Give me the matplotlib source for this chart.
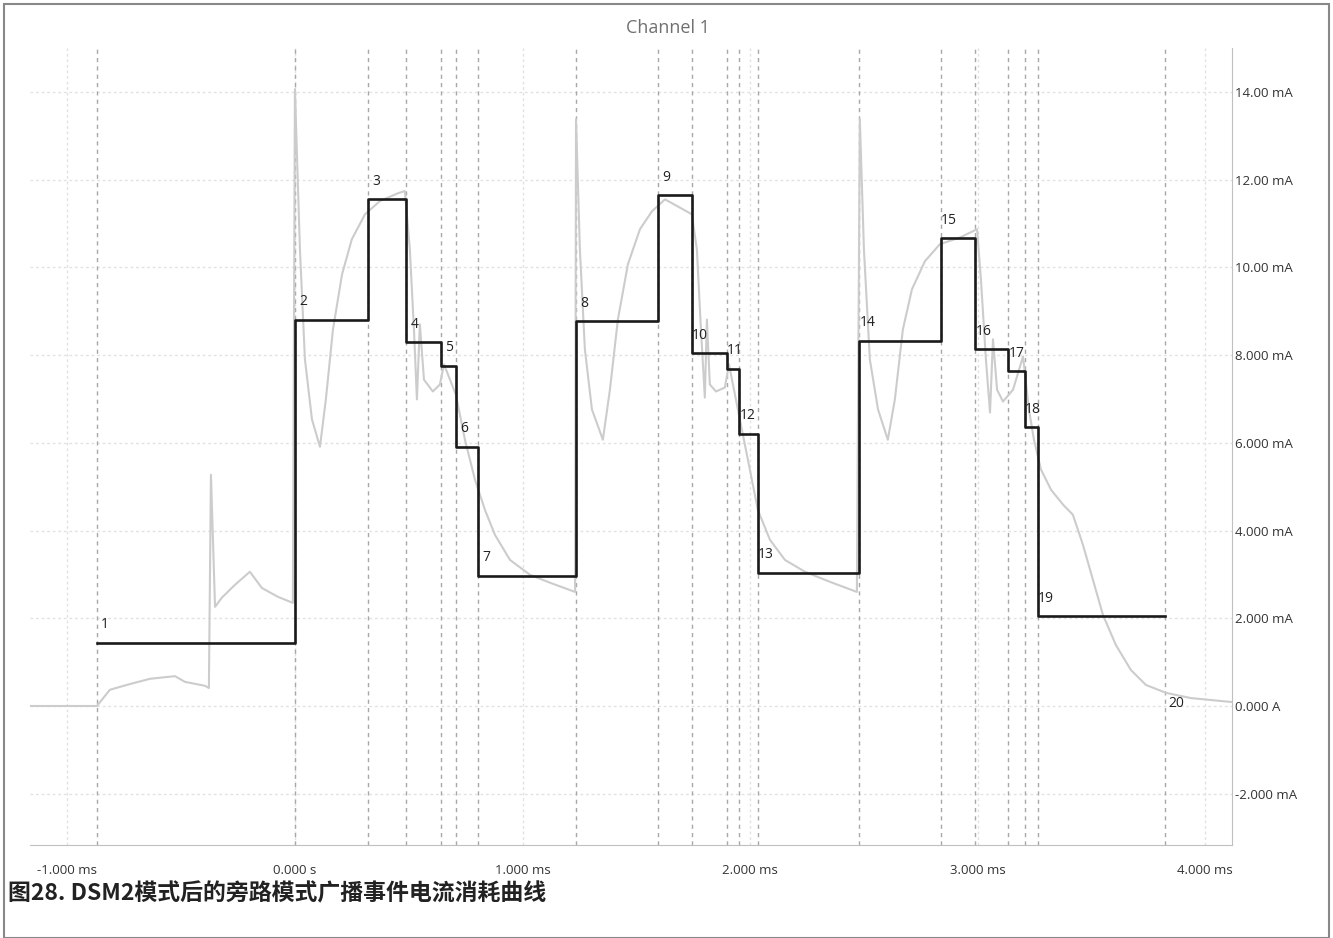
from matplotlib import pyplot as plt
from matplotlib.patches import Rectangle
import numpy as np

# marker times (ms) and step levels (mA) of the black event-average trace
marker_t = [-0.870, 0.0, 0.321, 0.488, 0.641, 0.707, 0.804, 1.235, 1.595, 1.744,
            1.898, 1.951, 2.034, 2.478, 2.838, 2.988, 3.133, 3.207, 3.264, 3.822]
step_mA = [1.44, 8.81, 11.55, 8.29, 7.76, 5.91, 2.97, 8.77, 11.64, 8.04,
           7.69, 6.21, 3.04, 8.33, 10.66, 8.13, 7.63, 6.35, 2.05]
marker_labels = [str(i) for i in range(1, 21)]

# measured current (light gray trace)
raw_t = [-1.164, -0.870, -0.813, -0.725, -0.637, -0.527, -0.483, -0.395, -0.378, -0.369,
         -0.351, -0.321, -0.264, -0.198, -0.145, -0.075, -0.009, 0.000, 0.022, 0.044,
         0.075, 0.110, 0.136, 0.167, 0.207, 0.250, 0.308, 0.373, 0.453, 0.483,
         0.505, 0.523, 0.536, 0.549, 0.567, 0.606, 0.637, 0.655, 0.707, 0.747,
         0.791, 0.835, 0.879, 0.945, 1.033, 1.121, 1.231, 1.235, 1.252, 1.274,
         1.305, 1.353, 1.384, 1.419, 1.463, 1.516, 1.569, 1.626, 1.744, 1.766,
         1.784, 1.801, 1.810, 1.823, 1.850, 1.889, 1.907, 1.955, 1.990, 2.034,
         2.087, 2.153, 2.241, 2.351, 2.469, 2.482, 2.500, 2.526, 2.562, 2.605,
         2.636, 2.671, 2.711, 2.768, 2.834, 2.922, 2.997, 3.014, 3.036, 3.054,
         3.067, 3.085, 3.111, 3.155, 3.199, 3.225, 3.247, 3.278, 3.322, 3.375,
         3.418, 3.462, 3.506, 3.550, 3.607, 3.673, 3.739, 3.827, 3.937, 4.117]
raw_mA = [0.00, 0.00, 0.37, 0.50, 0.62, 0.68, 0.55, 0.46, 0.41, 5.27,
          2.26, 2.47, 2.76, 3.06, 2.69, 2.49, 2.35, 14.06, 10.41, 7.90,
          6.53, 5.91, 6.99, 8.58, 9.84, 10.64, 11.21, 11.51, 11.69, 11.74,
          10.41, 8.58, 6.99, 8.70, 7.44, 7.17, 7.33, 7.79, 7.10, 6.07,
          5.16, 4.47, 3.90, 3.33, 2.99, 2.81, 2.60, 13.38, 10.41, 8.13,
          6.76, 6.07, 7.21, 8.81, 10.07, 10.87, 11.28, 11.55, 11.21, 10.41,
          8.58, 7.03, 8.81, 7.33, 7.17, 7.26, 7.79, 6.53, 5.62, 4.47,
          3.79, 3.33, 3.06, 2.83, 2.60, 13.38, 10.41, 7.90, 6.76, 6.07,
          6.99, 8.58, 9.50, 10.14, 10.53, 10.68, 10.87, 9.73, 7.90, 6.69,
          8.36, 7.21, 6.94, 7.21, 7.97, 6.76, 6.07, 5.39, 4.93, 4.59,
          4.36, 3.68, 2.88, 2.08, 1.39, 0.82, 0.48, 0.30, 0.18, 0.09]

x_ticks = [-1, 0, 1, 2, 3, 4]
x_ticklabels = ["-1.000 ms", "0.000 s", "1.000 ms", "2.000 ms", "3.000 ms", "4.000 ms"]
y_ticks = [-2, 0, 2, 4, 6, 8, 10, 12, 14]
y_ticklabels = ["-2.000 mA", "0.000 A", "2.000 mA", "4.000 mA", "6.000 mA",
                "8.000 mA", "10.00 mA", "12.00 mA", "14.00 mA"]

plt.rcParams['font.family'] = ['Open Sans', 'DejaVu Sans']

fig = plt.figure(figsize=(13.33, 9.38), dpi=100, facecolor="white")
ax = fig.add_axes([0.0225, 0.0991, 0.9017, 0.8497])

# grid
for yv in y_ticks:
    ax.axhline(yv, color="#e2e2e2", lw=1, ls=(0, (2, 2)), zorder=0)
for xv in x_ticks:
    ax.axvline(xv, color="#e2e2e2", lw=1, ls=(0, (2, 2)), zorder=0)

# event markers
for t in marker_t:
    ax.axvline(t, color="#a8a8a8", lw=1, ls=(0, (3, 3)), zorder=1)

ax.plot(raw_t, raw_mA, color="#cccccc", lw=1.5, zorder=2)

step_x = marker_t
step_y = step_mA + [step_mA[-1]]
ax.step(step_x, step_y, where="post", color="#1a1a1a", lw=1.9, zorder=3)

for t, lvl, lab in zip(marker_t[:-1], step_mA, marker_labels[:-1]):
    ax.annotate(lab, (t, lvl), xytext=(6, 13), textcoords="offset points",
                ha="center", va="center", fontsize=10, color="#222")
ax.annotate(marker_labels[-1], (marker_t[-1], 0.0), xytext=(8, 2), textcoords="offset points",
            ha="center", va="center", fontsize=10, color="#222")

ax.set_xlim(-1.164, 4.117)
ax.set_ylim(-3.17, 15.0)
ax.set_xticks(x_ticks)
ax.set_xticklabels(x_ticklabels)
ax.set_yticks(y_ticks)
ax.set_yticklabels(y_ticklabels)
ax.yaxis.tick_right()
ax.tick_params(length=0, labelsize=9.5, colors="#333333")
ax.tick_params(axis="x", pad=14)
ax.tick_params(axis="y", pad=2)
for s in ["top", "left"]:
    ax.spines[s].set_visible(False)
for s in ["right", "bottom"]:
    ax.spines[s].set_color("#c0c0c0")

fig.text(0.501, 0.970, "Channel 1", ha="center", va="center", fontsize=13, color="#707070")

fig.text(0.006, 0.047, "图28. DSM2模式后的旁路模式广播事件电流消耗曲线", ha="left", va="center",
         fontsize=16.5, fontweight="bold", color="#222222",
         family=['Noto Sans CJK SC', 'DejaVu Sans'])

fig.patches.append(Rectangle((0.003, 0.0), 0.994, 0.996, transform=fig.transFigure,
                             fill=False, edgecolor="#888888", lw=1.5))

plt.savefig("out.png", dpi=100)
plt.close()
